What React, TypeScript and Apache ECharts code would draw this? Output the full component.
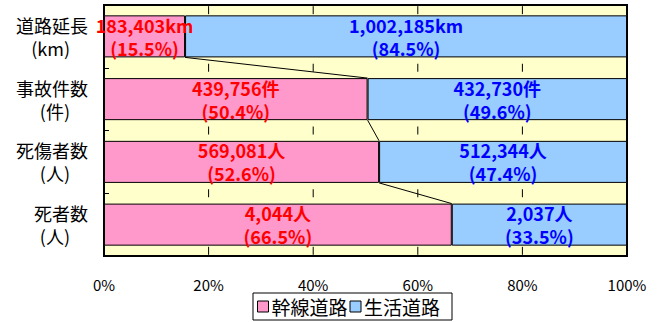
import React, { useEffect, useRef } from "react";
import * as echarts from "echarts";

// Road categories (top to bottom) and their units
const categories = ["道路延長", "事故件数", "死傷者数", "死者数"];
const unitLabels = ["(km)", "(件)", "(人)", "(人)"];
const valueUnits = ["km", "件", "人", "人"];

// 幹線道路 (arterial roads)
const arterialValues = [183403, 439756, 569081, 4044];
const arterialShare = [15.5, 50.4, 52.6, 66.5];

// 生活道路 (residential roads)
const localValues = [1002185, 432730, 512344, 2037];
const localShare = [84.5, 49.6, 47.4, 33.5];

const gridTicks = [20, 40, 60, 80];

const FONT = "'Noto Sans CJK JP', 'Noto Sans', sans-serif";
const GAP = 0.33;

const fmt = (n: number) => n.toLocaleString("en-US");

export default function App() {
  const ref = useRef<HTMLDivElement>(null);

  useEffect(() => {
    if (!ref.current) return;
    const chart = echarts.init(ref.current, null, { renderer: "svg" });

    const barLabel = (color: string, values: number[], shares: number[]) => ({
      show: true,
      position: "inside",
      color,
      fontFamily: FONT,
      fontWeight: "bold",
      fontSize: 18,
      lineHeight: 23,
      formatter: (p: any) =>
        `${fmt(values[p.dataIndex])}${valueUnits[p.dataIndex]}\n(${shares[p.dataIndex]}%)`,
    });

    chart.setOption({
      animation: false,
      backgroundColor: "#fff",
      textStyle: { fontFamily: FONT },
      grid: {
        left: 104,
        top: 5,
        width: 523,
        height: 251,
        show: true,
        backgroundColor: "#FFFFCC",
        borderColor: "#000",
        borderWidth: 2,
      },
      legend: {
        left: 253,
        top: 293,
        padding: [4, 12, 4, 4],
        icon: "rect",
        itemWidth: 11,
        itemHeight: 11,
        itemGap: 2,
        borderColor: "#000",
        borderWidth: 1,
        itemStyle: { borderColor: "#000", borderWidth: 1 },
        textStyle: { fontSize: 19, color: "#000", fontFamily: FONT, padding: [0, 0, 0, -2] },
        data: ["幹線道路", "生活道路"],
      },
      xAxis: {
        type: "value",
        min: 0,
        max: 100,
        interval: 20,
        axisLine: { show: false },
        axisTick: { show: false },
        splitLine: { show: false },
        axisLabel: {
          formatter: "{value}%",
          fontSize: 15,
          color: "#000",
          margin: 21,
          fontFamily: FONT,
        },
      },
      yAxis: {
        type: "category",
        inverse: true,
        data: categories,
        axisLine: { show: true, lineStyle: { color: "#000", width: 2 } },
        axisTick: { show: true, inside: true, length: 5, lineStyle: { color: "#000" } },
        axisLabel: {
          margin: 16,
          fontSize: 18,
          lineHeight: 23,
          padding: [4, 0, 0, 0],
          color: "#000",
          align: "right",
          fontFamily: FONT,
          formatter: (v: string, i: number) => `${v}\n${unitLabels[i]}\u3000`,
        },
      },
      series: [
        {
          name: "幹線道路",
          type: "bar",
          stack: "share",
          barCategoryGap: `${GAP * 100}%`,
          data: arterialShare,
          itemStyle: { color: "#FF99CC", borderColor: "#000", borderWidth: 1 },
          label: barLabel("#FF0000", arterialValues, arterialShare),
          z: 3,
        },
        {
          name: "生活道路",
          type: "bar",
          stack: "share",
          barCategoryGap: `${GAP * 100}%`,
          data: localShare,
          itemStyle: { color: "#99CCFF", borderColor: "#000", borderWidth: 1 },
          label: barLabel("#0000FF", localValues, localShare),
          z: 3,
        },
        {
          // series lines between the arterial segments plus short grid marks in the gaps
          type: "custom",
          silent: true,
          z: 4,
          data: arterialShare.map((v, i) => [v, i]),
          encode: { x: 0, y: 1 },
          renderItem: (params: any, api: any) => {
            const i = params.dataIndex;
            const c = api.coord([0, i]);
            const band = api.size([0, 1])[1];
            const barH = band * (1 - GAP);
            const children: any[] = [];
            const tickAt = (y: number) => {
              gridTicks.forEach((t) => {
                const x = api.coord([t, i])[0];
                children.push({
                  type: "line",
                  shape: { x1: x, y1: y - 4, x2: x, y2: y + 4 },
                  style: { stroke: "#000", lineWidth: 1 },
                });
              });
            };
            if (i === 0) tickAt(c[1] - barH / 2 - (band - barH) / 4);
            else tickAt(c[1] - band / 2);
            if (i === categories.length - 1) tickAt(c[1] + barH / 2 + (band - barH) / 4);
            if (i < categories.length - 1) {
              const x1 = api.coord([arterialShare[i], i])[0];
              const next = api.coord([arterialShare[i + 1], i + 1]);
              children.push({
                type: "line",
                shape: { x1, y1: c[1] + barH / 2, x2: next[0], y2: next[1] - barH / 2 },
                style: { stroke: "#000", lineWidth: 1 },
              });
            }
            return { type: "group", children };
          },
        },
      ],
    });

    return () => chart.dispose();
  }, []);

  return (
    <div
      ref={ref}
      style={{ position: "absolute", left: 0, top: 0, width: 664, height: 322 }}
    />
  );
}
